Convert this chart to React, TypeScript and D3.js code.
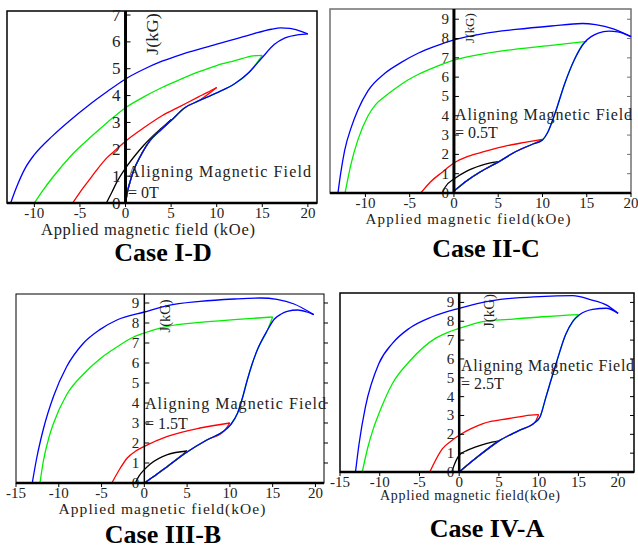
import React from "react";
import * as d3 from "d3";

type Pt = [number, number];

// ---------- Case I-D (aligning field 0T) ----------
const virginI: Pt[] = [[0,0],[0.2,0.4],[0.55,0.85],[0.9,1.22],[1.6,1.72],[2.7,2.33],[3.8,2.7],[5,3.07],[6.5,3.55],[8,3.8],[10,4.1],[12,4.45],[13.5,4.85],[15,5.42],[16.3,5.9],[17.5,6.15],[19,6.27],[20,6.3]];
const blueI: Pt[] = [[-12.6,0],[-12,0.55],[-11,1.3],[-10,1.8],[-8,2.5],[-6,3.1],[-4,3.65],[-2,4.15],[0,4.62],[2,4.98],[4,5.28],[6,5.52],[8,5.72],[10,5.92],[12,6.1],[14,6.3],[16,6.47],[17,6.52],[18,6.5],[19,6.42],[20,6.3]];
const greenI: Pt[] = [[-10,0],[-9,0.5],[-8,0.95],[-6,1.75],[-4,2.4],[-2,3.0],[0,3.55],[2,3.95],[4,4.3],[6,4.6],[8,4.88],[10,5.12],[12,5.3],[14,5.48],[15,5.5]];
const redI: Pt[] = [[-5.8,0],[-5,0.4],[-4,0.85],[-3,1.3],[-2,1.7],[-1,2.0],[0,2.3],[2,2.8],[4,3.25],[6,3.6],[8,3.95],[9,4.12],[10,4.3]];
const blackI: Pt[] = [[-2.1,0],[-1.5,0.4],[-1,0.75],[0,1.3],[1,1.75],[2,2.15],[3,2.5],[4,2.8],[5,3.1]];

// ---------- Case II-C (0.5T) ----------
const virginII: Pt[] = [[0,0.1],[1.5,0.65],[3,1.1],[5,1.6],[7,2.15],[9,2.55],[10,2.75],[10.6,3.15],[11.4,4.1],[12.5,5.65],[13.6,6.9],[14.8,7.82],[15.5,8.1],[16.3,8.28],[17.5,8.38],[18.5,8.35],[20,8.1]];
const blueII: Pt[] = [[-13.1,0],[-12.8,1],[-12.35,2.2],[-11.6,3.4],[-10.85,4.3],[-9.7,5.3],[-7.8,6.2],[-6,6.75],[-4,7.25],[-2,7.62],[0,7.93],[3.5,8.27],[7,8.47],[11,8.65],[14.5,8.78],[16,8.72],[18,8.5],[20,8.1]];
const greenII: Pt[] = [[-12.3,0],[-11.6,1.55],[-10.85,2.75],[-9.7,4.0],[-8.8,4.6],[-7.8,5.0],[-6.5,5.45],[-5.2,5.85],[-4,6.15],[-2,6.55],[0,6.88],[3.5,7.22],[7,7.45],[11,7.65],[15,7.85]];
const redII: Pt[] = [[-3.75,0],[-2.6,0.6],[-1.4,1.05],[0,1.55],[1.5,1.88],[3.5,2.15],[6,2.45],[8,2.62],[10,2.78]];
const blackII: Pt[] = [[-1.3,0],[-1,0.3],[0,0.72],[1.5,1.15],[3,1.42],[4,1.55],[5,1.62]];

// ---------- Case III-B (1.5T) ----------
const virginIII: Pt[] = [[0,0],[1.5,0.45],[2.7,0.83],[5,1.55],[7.3,2.15],[9.3,2.6],[10.1,2.92],[10.9,3.5],[11.5,4.3],[12,5.1],[12.6,5.95],[13.2,6.65],[14.4,7.65],[15.2,8.2],[16,8.45],[16.7,8.58],[17.9,8.65],[19,8.55],[19.8,8.42]];
const blueIII: Pt[] = [[-13.1,0],[-12.6,1.2],[-11.8,2.7],[-10.6,4.35],[-9.1,5.8],[-7.1,7.0],[-5.2,7.67],[-3.2,8.15],[0,8.55],[2.7,8.87],[6.5,9.08],[10.5,9.2],[13.6,9.25],[15.5,9.18],[17.5,8.95],[19.8,8.42]];
const greenIII: Pt[] = [[-12.2,0],[-11.8,1.1],[-11.2,2.2],[-10.6,3.0],[-9.1,4.4],[-7.1,5.45],[-5.2,6.2],[-3.2,6.8],[-1.5,7.25],[0,7.5],[2.7,7.83],[6.5,8.03],[10.5,8.17],[15,8.3]];
const redIII: Pt[] = [[-3.8,0],[-2.8,0.75],[-2,1.25],[-1,1.6],[0,1.83],[2.7,2.33],[6.5,2.75],[10,3.0]];
const blackIII: Pt[] = [[-1.05,0],[-0.65,0.33],[0,0.67],[0.7,0.95],[2.7,1.42],[5,1.6]];

// ---------- Case IV-A (2.5T) ----------
const virginIV: Pt[] = [[0,0],[2,0.7],[5,1.65],[7.5,2.2],[9.5,2.62],[10.2,2.95],[10.9,3.95],[11.5,4.8],[12.2,5.76],[13.4,7.3],[14.3,8.0],[15.1,8.33],[16.8,8.63],[18.5,8.69],[20,8.42]];
const blueIV: Pt[] = [[-13.05,0],[-12.6,1.5],[-11.8,3.45],[-10.1,5.76],[-8.4,6.83],[-6.3,7.62],[-3.4,8.24],[0,8.69],[4.2,9.1],[10.1,9.31],[14.3,9.36],[16.5,9.15],[18.5,8.87],[20,8.42]];
const greenIV: Pt[] = [[-12.2,0],[-11.5,1.3],[-10.8,2.3],[-10.1,3.1],[-8.4,4.7],[-6.3,5.85],[-3,7.09],[-1.5,7.4],[0,7.62],[3,7.98],[6.3,8.1],[10.5,8.24],[15,8.35]];
const redIV: Pt[] = [[-3.7,0],[-2.1,1.24],[-1,1.65],[0,1.95],[1.5,2.3],[3,2.57],[6.3,2.84],[9,3.02],[10,3.05]];
const blackIV: Pt[] = [[-0.93,0],[-0.6,0.4],[0,0.89],[1,1.15],[2.1,1.33],[3.5,1.52],[5,1.65]];

const maxFields = [5, 10, 15, 20];
const loopColors = ["#000000", "#ff0000", "#00ee00", "#0000ff"];

const titles = ["Case I-D", "Case II-C", "Case III-B", "Case IV-A"];
const fieldLabels = ["= 0T", "= 0.5T", "= 1.5T", "= 2.5T"];
const xTitles = ["Applied magnetic field (kOe)", "Applied magnetic field(kOe)", "Applied magnetic field(kOe)", "Applied magnetic field(kOe)"];
const xTicksA = [-10, -5, 0, 5, 10, 15, 20];
const xTicksB = [-15, -10, -5, 0, 5, 10, 15, 20];
const yTicks7 = [0, 1, 2, 3, 4, 5, 6, 7];
const yTicks9 = [0, 1, 2, 3, 4, 5, 6, 7, 8, 9];

type PanelCfg = {
  id: string;
  left: number; right: number; top: number; bottom: number;
  xd: [number, number]; yd: [number, number];
  virgin: Pt[]; loops: Pt[][];
  xTicks: number[]; yTicks: number[];
  title: string; field: string; xTitle: string;
  border: string; borderW: number; yAxisW: number; rightTicks: number;
  yLabSize: number;
  xLabDy: number; xTitleX: number; xTitleY: number; xTitleLen: number; xTitleSize: number;
  caseY: number; caseX: number;
  annX: number; annY1: number; annY2: number; annLen: number;
  jx: number; jy: number; jLen: number; jSize: number;
};

const panels: PanelCfg[] = [
  { id: "p1", left: 7, right: 317, top: 11, bottom: 203, xd: [-13, 21], yd: [0, 7.15],
    virgin: virginI, loops: [blackI, redI, greenI, blueI], xTicks: xTicksA, yTicks: yTicks7,
    title: titles[0], field: fieldLabels[0], xTitle: xTitles[0],
    border: "#000", borderW: 1.5, yAxisW: 3, rightTicks: 0, yLabSize: 17,
    xLabDy: 15, xTitleX: 148, xTitleY: 235, xTitleLen: 214, xTitleSize: 16.5,
    caseY: 261, caseX: 163, annX: 128, annY1: 177, annY2: 198, annLen: 183,
    jx: 158, jy: 34, jLen: 42, jSize: 16 },
  { id: "p2", left: 330, right: 631, top: 9, bottom: 193, xd: [-14, 20], yd: [0, 9.53],
    virgin: virginII, loops: [blackII, redII, greenII, blueII], xTicks: xTicksA, yTicks: yTicks9,
    title: titles[1], field: fieldLabels[1], xTitle: xTitles[1],
    border: "#707070", borderW: 1.5, yAxisW: 3, rightTicks: 1, yLabSize: 15,
    xLabDy: 15, xTitleX: 468, xTitleY: 224, xTitleLen: 205, xTitleSize: 15,
    caseY: 257, caseX: 486, annX: 455, annY1: 119.5, annY2: 138, annLen: 177,
    jx: 474, jy: 28, jLen: 30, jSize: 13.5 },
  { id: "p3", left: 16, right: 324, top: 294, bottom: 483, xd: [-15, 21], yd: [0, 9.45],
    virgin: virginIII, loops: [blackIII, redIII, greenIII, blueIII], xTicks: xTicksB, yTicks: yTicks9,
    title: titles[2], field: fieldLabels[2], xTitle: xTitles[2],
    border: "#000", borderW: 1, yAxisW: 1.5, rightTicks: 2, yLabSize: 15,
    xLabDy: 15, xTitleX: 162, xTitleY: 514, xTitleLen: 207, xTitleSize: 15.5,
    caseY: 543, caseX: 163, annX: 145, annY1: 409, annY2: 429, annLen: 181,
    jx: 170, jy: 316, jLen: 33, jSize: 14 },
  { id: "p4", left: 340, right: 634, top: 293, bottom: 472, xd: [-15, 22], yd: [0, 9.5],
    virgin: virginIV, loops: [blackIV, redIV, greenIV, blueIV], xTicks: xTicksB, yTicks: yTicks9,
    title: titles[3], field: fieldLabels[3], xTitle: xTitles[3],
    border: "#000", borderW: 1.5, yAxisW: 2.5, rightTicks: 1, yLabSize: 15,
    xLabDy: 14.5, xTitleX: 470, xTitleY: 500, xTitleLen: 180, xTitleSize: 14,
    caseY: 537, caseX: 487, annX: 461, annY1: 371, annY2: 389, annLen: 173,
    jx: 494, jy: 311, jLen: 34, jSize: 14 },
];

const FONT = "Liberation Serif, Times New Roman, serif";

function Panel({ p }: { p: PanelCfg }) {
  const x = d3.scaleLinear().domain(p.xd).range([p.left, p.right]);
  const y = d3.scaleLinear().domain(p.yd).range([p.bottom, p.top]);
  const line = d3.line<Pt>().x((d) => x(d[0])).y((d) => y(d[1])).curve(d3.curveMonotoneX);
  const x0 = x(0);
  const paths: { d: string; c: string }[] = [];
  p.loops.forEach((ret, i) => {
    const hmax = maxFields[i];
    const end = ret[ret.length - 1];
    const vir = p.virgin.filter((v) => v[0] < hmax - 0.05).concat([end]);
    paths.push({ d: line(ret) || "", c: loopColors[i] });
    paths.push({ d: line(vir) || "", c: loopColors[i] });
  });
  const ts = { fontFamily: FONT };
  return (
    <g style={ts}>
      <defs>
        <clipPath id={`clip-${p.id}`}>
          <rect x={p.left} y={p.top - 2} width={p.right - p.left + 2} height={p.bottom - p.top + 2} />
        </clipPath>
      </defs>
      <rect x={p.left} y={p.top} width={p.right - p.left} height={p.bottom - p.top} fill="#fff" stroke={p.border} strokeWidth={p.borderW} />
      {p.rightTicks > 0 && p.yTicks.slice(1).map((t) => (
        <line key={"r" + t} x1={p.right} x2={p.rightTicks === 1 ? p.right - 4 : p.right + 4} y1={y(t)} y2={y(t)} stroke={p.border} strokeWidth={1} />
      ))}
      <g clipPath={`url(#clip-${p.id})`} fill="none" strokeWidth={1.3}>
        {paths.map((pp, i) => (
          <path key={i} d={pp.d} stroke={pp.c} />
        ))}
      </g>
      <line x1={x0} x2={x0} y1={p.top} y2={p.bottom} stroke="#000" strokeWidth={p.yAxisW} />
      {p.yTicks.map((t) => (
        <g key={"y" + t}>
          <line x1={x0} x2={x0 + 5} y1={y(t)} y2={y(t)} stroke="#000" strokeWidth={1} />
          <text x={x0 - 5} y={y(t)} dy="0.33em" textAnchor="end" fontSize={p.yLabSize} fill="#222" style={ts}>{t}</text>
        </g>
      ))}
      <line x1={p.left} x2={p.right} y1={p.bottom} y2={p.bottom} stroke="#000" strokeWidth={2.5} />
      {p.xTicks.map((t) => (
        <g key={"x" + t}>
          <line x1={x(t)} x2={x(t)} y1={p.bottom} y2={p.bottom + 4} stroke="#000" strokeWidth={1} />
          <text x={x(t)} y={p.bottom + p.xLabDy} textAnchor="middle" fontSize={15} fill="#222" style={ts}>{t}</text>
        </g>
      ))}
      <text x={p.xTitleX} y={p.xTitleY} textAnchor="middle" fontSize={p.xTitleSize} textLength={p.xTitleLen} lengthAdjust="spacing" fill="#222" style={ts}>{p.xTitle}</text>
      <text x={p.caseX} y={p.caseY} textAnchor="middle" fontSize={26} fontWeight="bold" fill="#000" style={ts}>{p.title}</text>
      <text x={p.annX} y={p.annY1} fontSize={16} textLength={p.annLen} lengthAdjust="spacing" fill="#222" style={ts}>Aligning Magnetic Field</text>
      <text x={p.annX} y={p.annY2} fontSize={16} fill="#222" style={ts}>{p.field}</text>
      <text transform={`translate(${p.jx},${p.jy}) rotate(-90)`} textAnchor="middle" fontSize={p.jSize} textLength={p.jLen} lengthAdjust="spacingAndGlyphs" fill="#222" style={ts}>J(kG)</text>
    </g>
  );
}

export default function App() {
  return (
    <svg width={638} height={548} style={{ position: "absolute", left: 0, top: 0, background: "#fff", fontFamily: FONT }}>
      <rect x={0} y={0} width={638} height={548} fill="#fff" />
      {panels.map((p) => (
        <Panel key={p.id} p={p} />
      ))}
    </svg>
  );
}
